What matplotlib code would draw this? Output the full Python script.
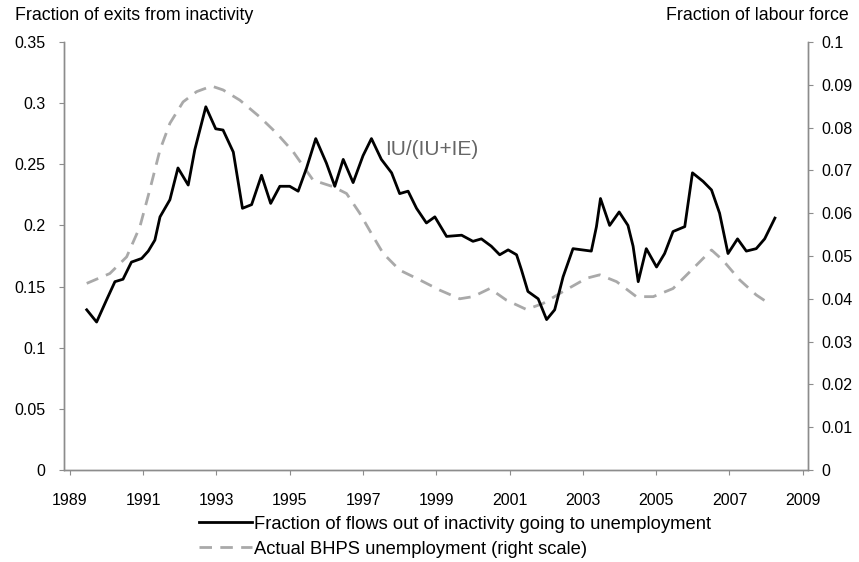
import matplotlib
matplotlib.use("Agg")
import matplotlib.pyplot as plt
from matplotlib.lines import Line2D

plt.rcParams['font.family'] = ['Liberation Sans', 'DejaVu Sans']

# fraction of flows out of inactivity going to unemployment (left scale)
flow_years = [1989.46, 1989.73, 1990.00, 1990.23, 1990.45, 1990.68, 1990.96, 1991.14,
              1991.32, 1991.46, 1991.73, 1991.95, 1992.23, 1992.41, 1992.71, 1992.98,
              1993.18, 1993.46, 1993.71, 1993.96, 1994.23, 1994.48, 1994.73, 1995.00,
              1995.23, 1995.46, 1995.71, 1996.00, 1996.23, 1996.46, 1996.73, 1997.00,
              1997.23, 1997.50, 1997.78, 1998.00, 1998.23, 1998.46, 1998.73, 1998.96,
              1999.28, 1999.69, 2000.00, 2000.23, 2000.50, 2000.73, 2000.96, 2001.19,
              2001.32, 2001.50, 2001.78, 2002.01, 2002.23, 2002.46, 2002.73, 2003.23,
              2003.37, 2003.48, 2003.73, 2003.99, 2004.23, 2004.37, 2004.51, 2004.73,
              2005.01, 2005.23, 2005.46, 2005.78, 2005.99, 2006.28, 2006.51, 2006.73,
              2006.96, 2007.22, 2007.46, 2007.73, 2007.96, 2008.24]
flow_share = [0.131, 0.121, 0.139, 0.154, 0.156, 0.170, 0.173, 0.179,
              0.188, 0.207, 0.221, 0.247, 0.233, 0.262, 0.297, 0.279,
              0.278, 0.260, 0.214, 0.217, 0.241, 0.218, 0.232, 0.232,
              0.228, 0.247, 0.271, 0.251, 0.232, 0.254, 0.235, 0.257,
              0.271, 0.254, 0.243, 0.226, 0.228, 0.214, 0.202, 0.207,
              0.191, 0.192, 0.187, 0.189, 0.183, 0.176, 0.180, 0.176,
              0.164, 0.146, 0.140, 0.123, 0.131, 0.158, 0.181, 0.179,
              0.199, 0.222, 0.200, 0.211, 0.200, 0.183, 0.154, 0.181,
              0.166, 0.177, 0.195, 0.199, 0.243, 0.236, 0.229, 0.210,
              0.177, 0.189, 0.179, 0.181, 0.189, 0.206]

# actual BHPS unemployment rate (right scale)
unemp_years = [1989.46, 1990.09, 1990.55, 1990.91, 1991.18, 1991.46, 1991.73, 1992.09,
               1992.46, 1992.87, 1993.18, 1993.64, 1994.18, 1994.64, 1995.09, 1995.64,
               1996.18, 1996.55, 1996.91, 1997.28, 1997.55, 1998.00, 1998.55, 1999.10,
               1999.64, 2000.00, 2000.46, 2000.91, 2001.46, 2001.91, 2002.46, 2003.10,
               2003.46, 2003.92, 2004.46, 2004.92, 2005.46, 2006.01, 2006.51, 2006.82,
               2007.28, 2007.73, 2008.01]
unemp_rate = [0.0436, 0.0459, 0.0498, 0.0568, 0.0654, 0.0748, 0.0810, 0.0860,
              0.0884, 0.0897, 0.0888, 0.0864, 0.0825, 0.0787, 0.0744, 0.0677,
              0.0662, 0.0646, 0.0600, 0.0545, 0.0506, 0.0467, 0.0444, 0.0420,
              0.0400, 0.0405, 0.0424, 0.0397, 0.0375, 0.0389, 0.0417, 0.0448,
              0.0456, 0.0440, 0.0405, 0.0405, 0.0424, 0.0471, 0.0514, 0.0490,
              0.0444, 0.0409, 0.0393]

year_ticks = list(range(1989, 2010, 2))
left_ticks = [0, 0.05, 0.1, 0.15, 0.2, 0.25, 0.3, 0.35]
left_labels = ['0', '0.05', '0.1', '0.15', '0.2', '0.25', '0.3', '0.35']
right_ticks = [0, 0.01, 0.02, 0.03, 0.04, 0.05, 0.06, 0.07, 0.08, 0.09, 0.1]
right_labels = ['0', '0.01', '0.02', '0.03', '0.04', '0.05', '0.06', '0.07', '0.08', '0.09', '0.1']

axis_grey = '#8c8c8c'
dash_grey = '#a9a9a9'

fig = plt.figure(figsize=(8.59, 5.62), dpi=100)
ax = fig.add_axes([0.0745, 0.1637, 0.866, 0.7616])
ax2 = ax.twinx()

ax.plot(flow_years, flow_share, color='black', lw=2.0, zorder=3)
ax2.plot(unemp_years, unemp_rate, color=dash_grey, lw=2.0, dashes=(4.5, 3))
ax.set_zorder(ax2.get_zorder() + 1)
ax.patch.set_visible(False)

ax.set_xlim(1988.84, 2009.14)
ax.set_ylim(0, 0.35)
ax2.set_ylim(0, 0.1)

ax.set_xticks(year_ticks)
ax.set_xticklabels([str(y) for y in year_ticks])
ax.set_yticks(left_ticks)
ax.set_yticklabels(left_labels)
ax2.set_yticks(right_ticks)
ax2.set_yticklabels(right_labels)

for a in (ax, ax2):
    a.spines['top'].set_visible(False)
    for s in ('left', 'right', 'bottom'):
        a.spines[s].set_color(axis_grey)
        a.spines[s].set_linewidth(1.0)
    a.tick_params(colors=axis_grey, labelcolor='black', labelsize=11.5, length=3.5)
ax.tick_params(axis='x', pad=13)
ax.tick_params(axis='y', pad=10)
ax2.tick_params(axis='y', pad=6)

ax.text(1997.6, 0.262, 'IU/(IU+IE)', fontsize=15, color='#666666', va='center')

fig.text(0.017, 0.973, 'Fraction of exits from inactivity', fontsize=12.8, va='center')
fig.text(0.988, 0.973, 'Fraction of labour force', fontsize=12.8, va='center', ha='right')

handles = [Line2D([], [], color='black', lw=2.0),
           Line2D([], [], color=dash_grey, lw=2.0, dashes=(4.5, 3))]
labels = ['Fraction of flows out of inactivity going to unemployment',
          'Actual BHPS unemployment (right scale)']
fig.legend(handles, labels, loc='upper left', bbox_to_anchor=(0.232, 0.082),
           frameon=False, fontsize=13.2, handlelength=2.9, handletextpad=0.1,
           labelspacing=0.42, borderpad=0, borderaxespad=0)

fig.savefig('out.png', dpi=100)
